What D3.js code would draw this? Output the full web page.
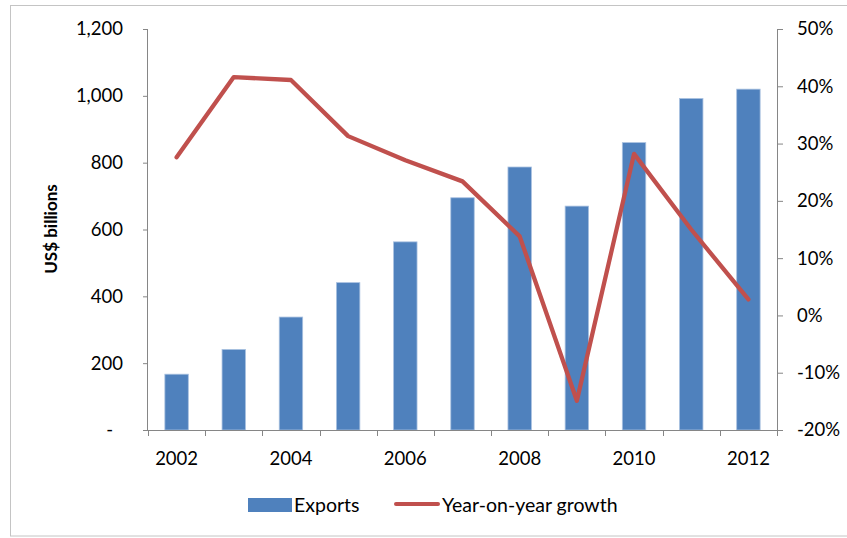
<!DOCTYPE html>
<html>
<head>
<meta charset="utf-8">
<script src="https://cdn.jsdelivr.net/npm/d3@7"></script>
<style>
  html, body { margin: 0; padding: 0; background: #fff; }
  svg { display: block; }
  text { font-family: Lato, "Noto Sans", sans-serif; fill: #000; }
</style>
</head>
<body>
<svg id="chart" width="847" height="538"></svg>
<script>
const years = ["2002","2003","2004","2005","2006","2007","2008","2009","2010","2011","2012"];
const exportsValues = [167, 241, 338, 441, 563, 695, 787, 670, 860, 992, 1020];
const growthValues = [0.276, 0.416, 0.411, 0.313, 0.271, 0.234, 0.138, -0.149, 0.282, 0.150, 0.028];
const leftTicks = [0, 200, 400, 600, 800, 1000, 1200];
const rightTicks = [-0.2, -0.1, 0, 0.1, 0.2, 0.3, 0.4, 0.5];
const xLabelYears = ["2002","2004","2006","2008","2010","2012"];
const seriesNames = ["Exports", "Year-on-year growth"];

const svg = d3.select("#chart");
const plotLeft = 148, plotRight = 777, plotTop = 29, plotBottom = 430;
const fontSize = 18.5;
const legendFontSize = 19.5;
const axisColor = "#868686";
const barColor = "#4F81BD";
const lineColor = "#C0504D";
const locale = d3.formatLocale({decimal: ".", thousands: ",", grouping: [3], currency: ["$", ""], minus: "-"});

// outer border
svg.append("rect").attr("x", 10.5).attr("y", 5.5).attr("width", 840).attr("height", 530.5)
  .attr("fill", "none").attr("stroke", "#c4c4c4").attr("stroke-width", 1);

const xBand = d3.scaleBand().domain(years).range([plotLeft, plotRight]).padding(0);
const xBar = d3.scaleBand().domain(years).range([plotLeft, plotRight]).paddingInner(0.59).paddingOuter(0.295);
const yL = d3.scaleLinear().domain([0, 1200]).range([plotBottom, plotTop]);
const yR = d3.scaleLinear().domain([-0.2, 0.5]).range([plotBottom, plotTop]);

// bars
svg.append("g").selectAll("rect").data(years).join("rect")
  .attr("x", (d) => xBar(d))
  .attr("y", (d, i) => yL(exportsValues[i]))
  .attr("width", xBar.bandwidth())
  .attr("height", (d, i) => yL(0) - yL(exportsValues[i]))
  .attr("fill", barColor)
  .attr("stroke", "#a9c1e0").attr("stroke-width", 0.8);

// left axis
const gL = svg.append("g").attr("transform", `translate(${plotLeft},0)`);
gL.call(d3.axisLeft(yL).tickValues(leftTicks).tickSize(5).tickPadding(20)
  .tickFormat((d) => d === 0 ? "-" : locale.format(",")(d)));
gL.select(".domain").attr("stroke", axisColor).attr("d", `M-0.5,${plotTop}V${plotBottom}`);
gL.selectAll(".tick line").attr("stroke", axisColor);
gL.selectAll(".tick text").attr("font-size", fontSize).attr("font-family", "Lato, sans-serif")
  .attr("fill", "#000")
  .attr("dx", (d) => d === 0 ? -10 : 0);

// right axis
const gR = svg.append("g").attr("transform", `translate(${plotRight},0)`);
gR.call(d3.axisRight(yR).tickValues(rightTicks).tickSize(6).tickPadding(14)
  .tickFormat(locale.format(".0%")));
gR.select(".domain").attr("stroke", axisColor).attr("d", `M0.5,${plotTop}V${plotBottom}`);
gR.selectAll(".tick line").attr("stroke", axisColor);
gR.selectAll(".tick text").attr("font-size", fontSize).attr("font-family", "Lato, sans-serif")
  .attr("fill", "#000");

// bottom axis: ticks at band boundaries
const gB = svg.append("g").attr("transform", `translate(0,${plotBottom})`);
gB.append("line").attr("x1", plotLeft - 0.5).attr("x2", plotRight + 0.5).attr("y1", 0.5).attr("y2", 0.5)
  .attr("stroke", axisColor);
const boundaries = years.map((d) => xBand(d)).concat([xBand.range()[1]]);
gB.selectAll("line.tk").data(boundaries).join("line").attr("class", "tk")
  .attr("x1", (d) => Math.round(d) + 0.5).attr("x2", (d) => Math.round(d) + 0.5)
  .attr("y1", 0).attr("y2", 6).attr("stroke", axisColor);
gB.selectAll("text").data(xLabelYears).join("text")
  .attr("x", (d) => xBand(d) + xBand.bandwidth() / 2)
  .attr("y", 35)
  .attr("text-anchor", "middle")
  .attr("font-size", fontSize)
  .text((d) => d);

// line
const line = d3.line()
  .x((d, i) => xBand(years[i]) + xBand.bandwidth() / 2)
  .y((d) => yR(d));
svg.append("path").datum(growthValues)
  .attr("d", line)
  .attr("fill", "none").attr("stroke", lineColor).attr("stroke-width", 4.3)
  .attr("stroke-linejoin", "round").attr("stroke-linecap", "round");

// y axis title
svg.append("text")
  .attr("transform", "translate(57,229) rotate(-90)")
  .attr("text-anchor", "middle")
  .attr("font-size", 17).attr("font-weight", "bold")
  .text("US$ billions");

// legend
const lg = svg.append("g");
lg.append("rect").attr("x", 248).attr("y", 498).attr("width", 44).attr("height", 14).attr("fill", barColor);
lg.append("text").attr("x", 294).attr("y", 511.5).attr("font-size", legendFontSize).text(seriesNames[0]);
lg.append("line").attr("x1", 396).attr("x2", 438).attr("y1", 504).attr("y2", 504)
  .attr("stroke", lineColor).attr("stroke-width", 4).attr("stroke-linecap", "round");
lg.append("text").attr("x", 442).attr("y", 511.5).attr("font-size", legendFontSize).text(seriesNames[1]);
</script>
</body>
</html>
